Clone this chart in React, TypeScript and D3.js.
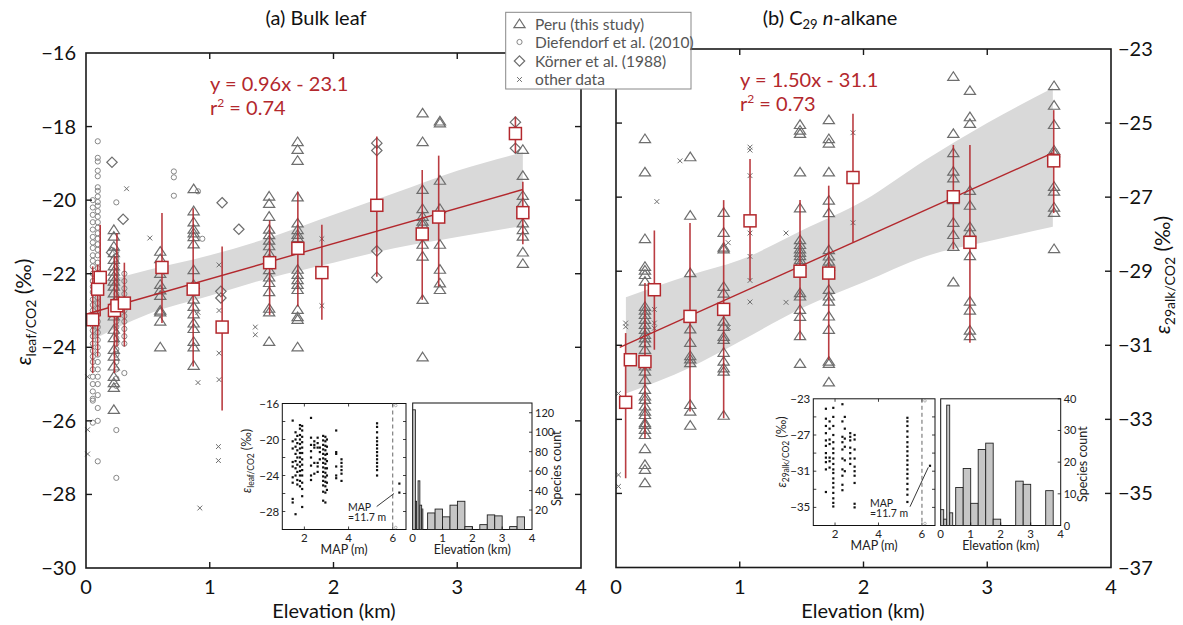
import React from 'react';
import * as d3 from 'd3';

const FONT = 'Lato, "Open Sans", "DejaVu Sans", sans-serif';
const RED = '#b3282d';
const SYM = '#6e6e6e';
const AXIS = '#1a1a1a';

// ---------------- data: (a) bulk leaf ----------------
const leafFit = { slope: 0.96, intercept: -23.1, x0: 0.02, x1: 3.53 };
const leafBandX = [0.05, 0.5, 1.0, 1.5, 2.0, 2.5, 3.0, 3.53];
const leafBandHi = [-22.3, -21.9, -21.5, -21.0, -20.4, -19.8, -19.2, -18.7];
const leafBandLo = [-23.8, -23.1, -22.6, -22.1, -21.7, -21.3, -21.0, -20.7];

const leafPeruElev = [0.225, 0.6, 0.87, 1.48, 1.71, 2.72, 2.86, 3.53];
const leafPeruVals = [
  [-20.81, -20.99, -21.26, -21.44, -21.62, -21.8, -21.94, -22.08, -22.21, -22.35, -22.53, -22.8, -23.16, -23.52, -23.75, -24.07, -24.25, -24.52, -24.8, -24.97, -25.1, -25.7],
  [-21.4, -21.6, -22.0, -22.3, -22.45, -22.6, -23.0, -23.05, -23.3, -24.0],
  [-19.7, -20.3, -20.6, -20.8, -20.9, -21.0, -21.2, -21.9, -22.3, -22.7, -22.9, -23.1, -23.35, -23.5, -23.85, -24.0, -24.5],
  [-19.9, -20.1, -20.45, -20.8, -20.95, -21.1, -21.25, -21.45, -21.6, -21.9, -22.1, -22.25, -22.5, -22.95, -23.05, -23.85],
  [-18.42, -18.63, -18.93, -19.92, -20.63, -20.81, -20.94, -21.03, -21.89, -22.03, -22.17, -22.3, -22.44, -22.98, -23.18, -23.25, -24.0],
  [-17.64, -18.42, -19.72, -20.24, -20.45, -20.58, -20.67, -21.21, -21.53, -22.71, -24.27],
  [-17.86, -17.91, -19.47, -20.24, -21.21, -21.89, -22.26, -22.44],
  [-18.63, -19.34, -19.88, -20.08, -20.35, -20.63, -20.81, -20.99, -21.42, -21.73],
];

const leafDiefElev = [0.055, 0.095, 0.245, 0.31];
const leafDiefVals = [
  [-20.0, -20.2, -20.4, -20.6, -20.8, -21.0, -21.15, -21.3, -21.5, -21.65, -21.8, -22.0, -22.2, -22.35, -22.5, -22.7, -22.85, -23.0, -23.2, -23.4, -23.55, -23.7, -23.9, -24.1, -24.25, -24.4, -24.6, -24.8, -25.0, -25.2, -25.4, -25.45, -26.05],
  [-18.4, -18.85, -18.95, -19.2, -19.35, -19.65, -19.75, -19.9, -20.05, -20.15, -20.3, -20.45, -20.6, -20.75, -20.9, -21.05, -21.2, -21.35, -21.5, -21.7, -21.85, -22.0, -22.15, -22.3, -22.5, -22.65, -22.8, -22.95, -23.1, -23.3, -23.45, -23.6, -23.8, -24.0, -24.2, -24.4, -24.6, -24.8, -25.0, -25.3, -25.65, -26.0, -27.1],
  [-20.06, -21.4, -21.6, -21.8, -21.95, -22.1, -22.25, -22.4, -22.55, -22.7, -22.85, -23.0, -23.15, -23.3, -23.45, -23.6, -23.75, -23.9, -24.05, -24.2, -24.4, -24.6, -24.85, -25.05, -26.25, -27.55],
  [-22.0, -22.2, -22.4, -22.55, -22.7, -22.85, -23.0, -23.15, -23.3, -23.5, -23.7, -23.9, -24.7],
];
const leafDiefOtherElev = [0.71, 0.71, 0.71, 0.905, 0.94];
const leafDiefOtherVal = [-19.22, -19.38, -19.88, -19.76, -21.05];

const leafKornerElev = [0.21, 0.3, 1.1, 1.235, 0.207, 1.09, 1.09, 2.35, 2.35, 2.35, 2.35, 3.47, 3.47];
const leafKornerVal = [-18.97, -20.52, -20.07, -20.79, -21.42, -22.48, -22.66, -18.45, -18.65, -21.38, -22.1, -17.88, -18.59];

const leafOtherElev = [0.328, 0.516, 1.075, 0.905, 1.075, 1.368, 1.368, 1.075, 0.905, 1.075, 1.07, 1.07, 0.92, 0.013, 0.013, 0.013, 1.906, 1.906];
const leafOtherVal = [-19.69, -21.03, -21.76, -23.05, -23.0, -23.45, -23.66, -24.16, -24.96, -24.88, -26.7, -27.08, -28.37, -26.24, -26.9, -24.8, -21.05, -22.87];

const leafMeanElev = [0.054, 0.094, 0.115, 0.23, 0.25, 0.31, 0.614, 0.866, 1.1, 1.484, 1.712, 1.906, 2.35, 2.717, 2.85, 3.47, 3.53];
const leafMean = [-23.25, -22.42, -22.1, -23.0, -22.87, -22.8, -21.83, -22.42, -23.45, -21.7, -21.31, -21.97, -20.14, -20.92, -20.46, -18.19, -20.34];
const leafErrHi = [-21.8, -21.75, -20.67, -21.53, -20.9, -21.7, -20.35, -20.22, -21.26, -20.55, -19.77, -20.67, -18.27, -19.18, -18.79, -17.73, -19.5];
const leafErrLo = [-24.7, -24.25, -23.16, -24.7, -23.98, -23.98, -23.34, -24.52, -25.72, -23.12, -22.89, -23.25, -22.08, -22.71, -22.35, -18.72, -21.2];

// ---------------- data: (b) C29 n-alkane ----------------
const alkFit = { slope: 1.5, intercept: -31.1, x0: 0.03, x1: 3.53 };
const alkBandX = [0.08, 0.6, 1.0, 1.5, 2.0, 2.5, 3.0, 3.53];
const alkBandHi = [-29.7, -29.1, -28.7, -27.9, -27.1, -26.0, -25.0, -24.05];
const alkBandLo = [-32.3, -31.6, -30.9, -30.0, -29.3, -28.6, -28.2, -27.8];

const alkPeruElev = [0.234, 0.6, 0.87, 1.487, 1.72, 2.726, 2.86, 3.54];
const alkPeruVals = [
  [-25.43, -26.33, -28.13, -28.88, -28.98, -29.1, -29.28, -29.96, -30.06, -30.18, -30.31, -30.45, -30.58, -30.72, -30.81, -30.94, -31.12, -31.57, -31.71, -31.93, -32.2, -32.38, -32.47, -32.65, -32.79, -32.88, -33.1, -33.15, -33.28, -33.42, -33.8, -34.23, -34.36, -34.72],
  [-25.92, -27.5, -29.05, -30.23, -30.57, -30.93, -31.29, -31.38, -31.48, -32.61, -32.79, -33.17],
  [-27.42, -27.96, -28.36, -28.41, -29.42, -29.6, -30.36, -30.5, -30.77, -30.85, -31.2, -31.44, -31.62, -31.71, -32.9],
  [-25.05, -25.2, -25.29, -26.33, -27.3, -28.16, -28.29, -28.41, -28.5, -28.59, -28.7, -28.81, -29.59, -29.68, -30.04, -30.23, -30.75, -31.5],
  [-24.92, -25.43, -25.55, -26.33, -27.09, -27.43, -28.43, -28.6, -28.74, -28.88, -29.5, -29.68, -29.82, -30.22, -30.58, -31.44, -31.5, -32.0],
  [-23.75, -25.29, -25.81, -26.31, -26.49, -27.08, -27.69, -28.02, -28.34, -29.3],
  [-24.13, -24.84, -25.02, -26.83, -27.23, -27.81, -27.96, -28.59, -29.82, -30.06, -30.6, -30.75],
  [-24.0, -24.53, -25.05, -25.74, -25.81, -26.72, -26.85, -27.28, -27.42, -28.4],
];
const alkOtherElev = [0.517, 1.083, 1.083, 1.083, 1.083, 1.083, 1.083, 1.083, 0.33, 0.31, 0.31, 0.31, 1.374, 1.374, 0.907, 0.907, 0.078, 0.078, 0.02, 0.02, 0.02, 1.915, 1.915];
const alkOtherVal = [-26.02, -25.65, -25.73, -26.42, -27.97, -28.6, -29.25, -29.83, -27.12, -30.03, -30.4, -30.54, -27.97, -29.84, -28.23, -30.52, -30.4, -30.5, -32.3, -34.5, -34.81, -25.26, -27.69];

const alkMeanElev = [0.078, 0.116, 0.234, 0.31, 0.598, 0.87, 1.083, 1.487, 1.719, 1.915, 2.726, 2.86, 3.537];
const alkMean = [-32.54, -31.39, -31.44, -29.5, -30.22, -30.03, -27.64, -29.0, -29.05, -26.47, -26.99, -28.22, -26.02];
const alkErrHi = [-30.67, -31.39, -29.32, -27.9, -27.7, -27.08, -25.97, -27.08, -26.69, -24.75, -25.59, -25.59, -24.65];
const alkErrLo = [-34.59, -31.39, -33.51, -31.12, -32.79, -32.97, -29.25, -30.85, -31.39, -28.21, -28.41, -30.93, -27.43];

// ---------------- inset data ----------------
const insetLeafMAP = [1.47, 1.6, 1.68, 1.8, 1.9, 2.3, 2.45, 2.6, 2.7, 2.85, 2.95, 3.02, 3.44, 3.68, 5.29, 6.3];
const insetLeafVals = [
  [-17.9, -20.2, -21.0, -22.5, -23.0, -24.2, -24.8, -26.6, -27.0],
  [-28.3, -19.2, -20.0, -20.8, -21.6, -22.4, -23.2, -24.0],
  [-19.6, -20.4, -21.2, -22.0, -22.8, -23.6, -24.5, -25.0],
  [-18.4, -18.8, -19.5, -20.0, -20.5, -21.0, -21.5, -22.0, -22.5, -23.0, -23.5, -24.0, -24.6, -25.2],
  [-18.5, -19.0, -19.7, -20.3, -20.9, -21.5, -22.2, -22.8, -23.4, -24.0, -24.8, -25.5, -26.3, -27.5],
  [-17.6, -19.8, -20.6, -21.3, -22.0, -22.9, -24.0, -24.5],
  [-20.2, -20.6, -20.9, -22.6, -23.8],
  [-19.8, -20.4, -20.9, -22.6, -23.0, -23.6],
  [-20.9, -21.4, -22.2],
  [-19.6, -20.1, -20.6, -21.1, -21.6, -22.1, -22.6, -23.1, -23.6, -24.1, -24.6, -25.1, -25.8, -26.8],
  [-19.7, -20.2, -20.7, -21.2, -21.7, -22.2, -22.7, -23.2, -23.7, -24.2, -24.7, -25.2, -25.9, -27.0],
  [-20.0, -20.8, -21.6, -22.4, -23.2, -24.0, -24.8, -25.6],
  [-19.0, -21.4, -21.6, -23.0, -24.0, -24.3],
  [-22.2, -22.6, -23.0, -23.4, -23.8, -24.6],
  [-18.2, -18.6, -19.2, -19.8, -20.2, -20.6, -21.0, -21.4, -21.8, -22.2, -22.6, -23.0, -23.4, -24.0],
  [-24.9, -25.9],
];
const insetAlkMAP = [1.58, 1.75, 1.92, 2.34, 2.45, 2.7, 2.9, 5.33, 6.37];
const insetAlkVals = [
  [-24.1, -25.2, -26.0, -26.8, -27.6, -28.2, -29.0, -29.5, -30.0, -30.8, -33.3],
  [-25.5, -26.3, -27.5, -28.0, -29.5, -29.9, -30.6],
  [-24.0, -25.0, -26.0, -27.0, -27.8, -28.5, -29.0, -29.6, -30.2, -30.8, -31.2, -31.8, -32.3, -32.8, -33.4, -34.0, -34.5, -34.9],
  [-23.6, -25.5, -27.2, -27.8, -28.6, -29.6, -30.8, -31.5, -32.5, -33.1],
  [-25.0, -26.3, -27.4, -28.3, -29.8, -31.0],
  [-26.8, -27.2, -27.6, -28.4, -29.0, -29.6, -30.2],
  [-27.0, -27.5, -28.6, -29.6, -30.5, -31.0, -31.5, -32.3, -34.6, -35.0],
  [-25.1, -25.5, -26.0, -26.6, -27.2, -27.8, -28.3, -28.8, -29.3, -29.8, -30.3, -30.8, -31.3, -31.8, -32.4, -33.0, -33.6, -34.4],
  [-30.4],
];

const leafHistX0 = [0.0, 0.09, 0.18, 0.24, 0.3, 0.5, 0.75, 1.0, 1.25, 1.5, 1.75, 2.25, 2.5, 2.75, 3.25, 3.5];
const leafHistX1 = [0.09, 0.13, 0.24, 0.3, 0.34, 0.75, 1.0, 1.25, 1.5, 1.75, 2.0, 2.5, 2.75, 3.0, 3.5, 3.75];
const leafHistN = [123, 29, 50, 25, 21, 17, 21, 13, 25, 29, 3, 5, 15, 14, 3, 13];
const alkHistX0 = [0.0, 0.1, 0.2, 0.3, 0.5, 0.75, 1.0, 1.25, 1.5, 1.75, 2.5, 2.75, 3.5];
const alkHistX1 = [0.1, 0.2, 0.3, 0.4, 0.75, 1.0, 1.25, 1.5, 1.75, 2.0, 2.75, 3.0, 3.75];
const alkHistN = [5, 2, 38, 4, 12, 18, 7, 24, 26, 2, 14, 13, 11];

const elevTicks = [0, 1, 2, 3, 4];
const leafTicks = [-16, -18, -20, -22, -24, -26, -28, -30];
const alkTicks = [-23, -25, -27, -29, -31, -33, -35, -37];
const legendItems = ['Peru (this study)', 'Diefendorf et al. (2010)', 'Körner et al. (1988)', 'other data'];

// ---------------- scales ----------------
const xL = d3.scaleLinear().domain([0, 4]).range([86, 581]);
const yL = d3.scaleLinear().domain([-30, -16]).range([568, 53]);
const xR = d3.scaleLinear().domain([0, 4]).range([616, 1111]);
const yR = d3.scaleLinear().domain([-37, -23]).range([567.5, 49]);

const xIL = d3.scaleLinear().domain([1, 6.6]).range([282.3, 406]);
const yIL = d3.scaleLinear().domain([-30, -16]).range([529.5, 403.5]);
const xHL = d3.scaleLinear().domain([0, 4]).range([412.7, 532]);
const yHL = d3.scaleLinear().domain([0, 130]).range([529.5, 403]);
const xIR = d3.scaleLinear().domain([1, 6.6]).range([813.3, 935]);
const yIR = d3.scaleLinear().domain([-37, -23]).range([525.5, 398.8]);
const xHR = d3.scaleLinear().domain([0, 4]).range([940.7, 1060.7]);
const yHR = d3.scaleLinear().domain([0, 40]).range([525.5, 398.8]);

const minus = (v: number) => (v < 0 ? '\u2212' + Math.abs(v) : String(v));

const triPath = (x: number, y: number) => `M${x},${y - 5}L${x + 5.6},${y + 3.6}L${x - 5.6},${y + 3.6}Z`;
const diaPath = (x: number, y: number) => `M${x},${y - 5.2}L${x + 5.2},${y}L${x},${y + 5.2}L${x - 5.2},${y}Z`;
const crossPath = (x: number, y: number) => `M${x - 2.4},${y - 2.4}L${x + 2.4},${y + 2.4}M${x + 2.4},${y - 2.4}L${x - 2.4},${y + 2.4}`;

type Sc = d3.ScaleLinear<number, number>;

function Triangles({ xs, vals, x, y }: { xs: number[]; vals: number[][]; x: Sc; y: Sc }) {
  return (
    <g fill="none" stroke={SYM} strokeWidth={1.2}>
      {xs.map((e, i) => vals[i].map((v, j) => <path key={i + '-' + j} d={triPath(x(e), y(v))} />))}
    </g>
  );
}

function Band({ bx, hi, lo, x, y }: { bx: number[]; hi: number[]; lo: number[]; x: Sc; y: Sc }) {
  const idx = bx.map((_, i) => i);
  const area = d3
    .area<number>()
    .x((i) => x(bx[i]))
    .y0((i) => y(lo[i]))
    .y1((i) => y(hi[i]))
    .curve(d3.curveMonotoneX);
  return <path d={area(idx) || ''} fill="#d9d9d9" />;
}

function Means({ xs, m, hi, lo, x, y }: { xs: number[]; m: number[]; hi: number[]; lo: number[]; x: Sc; y: Sc }) {
  return (
    <g>
      <g stroke={RED} strokeWidth={1.6} strokeOpacity={0.9}>
        {xs.map((e, i) => (
          <line key={i} x1={x(e)} x2={x(e)} y1={y(hi[i])} y2={y(lo[i])} />
        ))}
      </g>
      <g fill="#fff" stroke={RED} strokeWidth={1.5}>
        {xs.map((e, i) => (
          <rect key={i} x={x(e) - 6} y={y(m[i]) - 6} width={12} height={12} />
        ))}
      </g>
    </g>
  );
}

function Frame({ x, y, xTicks, yTicks, labelsLeft, labelsRight }: any) {
  const [x0, x1] = x.range();
  const [yb, yt] = y.range();
  return (
    <g>
      <rect x={x0} y={yt} width={x1 - x0} height={yb - yt} fill="none" stroke={AXIS} strokeWidth={1.6} />
      <g stroke={AXIS} strokeWidth={1.4}>
        {xTicks.slice(1, -1).map((t: number) => (
          <g key={t}>
            <line x1={x(t)} x2={x(t)} y1={yb} y2={yb - 6} />
            <line x1={x(t)} x2={x(t)} y1={yt} y2={yt + 6} />
          </g>
        ))}
        {yTicks.slice(1, -1).map((t: number) => (
          <g key={t}>
            <line x1={x0} x2={x0 + 6} y1={y(t)} y2={y(t)} />
            <line x1={x1} x2={x1 - 6} y1={y(t)} y2={y(t)} />
          </g>
        ))}
      </g>
      <g fontSize={20} fill="#111">
        {xTicks.map((t: number) => (
          <text key={t} x={x(t)} y={594} textAnchor="middle">
            {t}
          </text>
        ))}
        {labelsLeft &&
          yTicks.map((t: number) => (
            <text key={t} x={x0 - 10} y={y(t) + 7} textAnchor="end">
              {minus(t)}
            </text>
          ))}
        {labelsRight &&
          yTicks.map((t: number) => (
            <text key={t} x={x1 + 7} y={y(t) + 7} textAnchor="start">
              {minus(t)}
            </text>
          ))}
      </g>
    </g>
  );
}

function ScatterInset({ x, y, maps, vals, ticks, labTicks, label }: any) {
  const [x0, x1] = x.range();
  const [yb, yt] = y.range();
  return (
    <g>
      <rect x={x0} y={yt} width={x1 - x0} height={yb - yt} fill="#fff" stroke="#111" strokeWidth={1} />
      <g stroke="#111" strokeWidth={0.8}>
        {[2, 4, 6].map((t) => (
          <g key={t}>
            <line x1={x(t)} x2={x(t)} y1={yb} y2={yb - 3} />
            <line x1={x(t)} x2={x(t)} y1={yt} y2={yt + 3} />
          </g>
        ))}
        {ticks.map((t: number) => (
          <g key={t}>
            <line x1={x0} x2={x0 + 3} y1={y(t)} y2={y(t)} />
            <line x1={x1} x2={x1 - 3} y1={y(t)} y2={y(t)} />
          </g>
        ))}
      </g>
      <line x1={x(6)} x2={x(6)} y1={yt} y2={yb} stroke="#666" strokeWidth={1} strokeDasharray="4,3" />
      <circle cx={x(6) + 3} cy={yt + 2} r={1.3} fill="none" stroke="#888" strokeWidth={0.6} />
      <circle cx={x(6) + 3} cy={yb - 2} r={1.3} fill="none" stroke="#888" strokeWidth={0.6} />
      <g fill="#111">
        {maps.map((m: number, i: number) =>
          vals[i].map((v: number, j: number) => <rect key={i + '-' + j} x={x(m) - 1.1} y={y(v) - 1.1} width={2.2} height={2.2} />)
        )}
      </g>
      <g fontSize={11.5} fill="#222">
        {labTicks.map((t: number) => (
          <text key={t} x={x0 - 3} y={y(t) + 4} textAnchor="end">
            {minus(t)}
          </text>
        ))}
        {[2, 4, 6].map((t) => (
          <text key={t} x={x(t)} y={yb + 12} textAnchor="middle">
            {t}
          </text>
        ))}
        <text x={(x0 + x1) / 2} y={yb + 24.5} textAnchor="middle" fontSize={12.5}>
          MAP (m)
        </text>
      </g>
      {label}
    </g>
  );
}

function HistInset({ x, y, x0s, x1s, ns, ticks, labOff }: any) {
  const [a, b] = x.range();
  const [yb, yt] = y.range();
  return (
    <g>
      <rect x={a} y={yt} width={b - a} height={yb - yt} fill="#fff" stroke="#111" strokeWidth={1} />
      <g fill="#c6c6c6" stroke="#222" strokeWidth={0.9}>
        {ns.map((n: number, i: number) => (
          <rect key={i} x={x(x0s[i])} y={y(n)} width={x(x1s[i]) - x(x0s[i])} height={yb - y(n)} />
        ))}
      </g>
      <g stroke="#111" strokeWidth={0.8}>
        {[1, 2, 3].map((t) => (
          <line key={t} x1={x(t)} x2={x(t)} y1={yb} y2={yb - 3} />
        ))}
        {ticks.map((t: number) => (
          <line key={t} x1={b} x2={b - 3} y1={y(t)} y2={y(t)} />
        ))}
      </g>
      <g fontSize={11} fill="#222">
        {ticks.map((t: number) => (
          <text key={t} x={b + 3} y={y(t) + 4}>
            {t}
          </text>
        ))}
        {[0, 1, 2, 3, 4].map((t) => (
          <text key={t} x={x(t)} y={yb + 12} textAnchor="middle" fontSize={11.5}>
            {t}
          </text>
        ))}
        <text x={(a + b) / 2} y={yb + 24.5} textAnchor="middle" fontSize={12.5}>
          Elevation (km)
        </text>
        <text transform={`translate(${b + labOff},${(yt + yb) / 2 + 2}) rotate(-90)`} textAnchor="middle" fontSize={12.5}>
          Species count
        </text>
      </g>
    </g>
  );
}

export default function App() {
  const leafLine = [leafFit.x0, leafFit.x1].map((e) => [xL(e), yL(leafFit.slope * e + leafFit.intercept)]);
  const alkLine = [alkFit.x0, alkFit.x1].map((e) => [xR(e), yR(alkFit.slope * e + alkFit.intercept)]);
  const lineGen = d3.line();

  return (
    <svg width={1183} height={625} style={{ position: 'absolute', left: 0, top: 0, background: '#fff' }} fontFamily={FONT}>
      <rect width={1183} height={625} fill="#fff" />

      {/* ---------- panel (a) ---------- */}
      <Band bx={leafBandX} hi={leafBandHi} lo={leafBandLo} x={xL} y={yL} />
      <g fill="none" stroke="#888" strokeWidth={1}>
        {leafDiefElev.map((e, i) => leafDiefVals[i].map((v, j) => <circle key={i + '-' + j} cx={xL(e)} cy={yL(v)} r={2.6} />))}
        {leafDiefOtherElev.map((e, i) => (
          <circle key={'o' + i} cx={xL(e)} cy={yL(leafDiefOtherVal[i])} r={2.6} />
        ))}
      </g>
      <Triangles xs={leafPeruElev} vals={leafPeruVals} x={xL} y={yL} />
      <g fill="none" stroke={SYM} strokeWidth={1.2}>
        {leafKornerElev.map((e, i) => (
          <path key={i} d={diaPath(xL(e), yL(leafKornerVal[i]))} />
        ))}
      </g>
      <g fill="none" stroke={SYM} strokeWidth={1}>
        {leafOtherElev.map((e, i) => (
          <path key={i} d={crossPath(xL(e), yL(leafOtherVal[i]))} />
        ))}
      </g>
      <path d={lineGen(leafLine as any) || ''} stroke={RED} strokeWidth={1.4} fill="none" />
      <Means xs={leafMeanElev} m={leafMean} hi={leafErrHi} lo={leafErrLo} x={xL} y={yL} />
      <Frame x={xL} y={yL} xTicks={elevTicks} yTicks={leafTicks} labelsLeft />
      <text x={210} y={91} fill={RED} fontSize={20}>
        y = 0.96x - 23.1
      </text>
      <text x={210} y={115} fill={RED} fontSize={20}>
        r<tspan dy={-8} fontSize={12}>2</tspan>
        <tspan dy={8}> = 0.74</tspan>
      </text>
      <text x={316} y={25} textAnchor="middle" fontSize={20} fill="#111">
        (a) Bulk leaf
      </text>
      <text x={334} y={618} textAnchor="middle" fontSize={20} fill="#111">
        Elevation (km)
      </text>
      <text transform="translate(31,312) rotate(-90)" textAnchor="middle" fontSize={21} fill="#111">
        <tspan fontStyle="italic">ε</tspan>
        <tspan fontSize={14} dy={5}>leaf/CO2</tspan>
        <tspan dy={-5}> (‰)</tspan>
      </text>

      <ScatterInset
        x={xIL}
        y={yIL}
        maps={insetLeafMAP}
        vals={insetLeafVals}
        ticks={[-18, -20, -22, -24, -26, -28]}
        labTicks={[-16, -20, -24, -28]}
        label={
          <g>
            <text transform="translate(251,461) rotate(-90)" textAnchor="middle" fontSize={12.5} fill="#222">
              <tspan fontStyle="italic">ε</tspan>
              <tspan fontSize={8.5} dy={3}>leaf/CO2</tspan>
              <tspan dy={-3}> (‰)</tspan>
            </text>
            <text x={348} y={510.5} fontSize={10.5} fill="#222">
              <tspan x={348}>MAP</tspan>
              <tspan x={348} dy={10.5}>=11.7 m</tspan>
            </text>
            <line x1={376.7} y1={506.5} x2={394} y2={493.5} stroke="#222" strokeWidth={0.9} />
          </g>
        }
      />
      <HistInset x={xHL} y={yHL} x0s={leafHistX0} x1s={leafHistX1} ns={leafHistN} ticks={[20, 40, 60, 80, 100, 120]} labOff={29} />

      {/* ---------- panel (b) ---------- */}
      <Band bx={alkBandX} hi={alkBandHi} lo={alkBandLo} x={xR} y={yR} />
      <Triangles xs={alkPeruElev} vals={alkPeruVals} x={xR} y={yR} />
      <g fill="none" stroke={SYM} strokeWidth={1}>
        {alkOtherElev.map((e, i) => (
          <path key={i} d={crossPath(xR(e), yR(alkOtherVal[i]))} />
        ))}
      </g>
      <path d={lineGen(alkLine as any) || ''} stroke={RED} strokeWidth={1.4} fill="none" />
      <Means xs={alkMeanElev} m={alkMean} hi={alkErrHi} lo={alkErrLo} x={xR} y={yR} />
      <Frame x={xR} y={yR} xTicks={elevTicks} yTicks={alkTicks} labelsRight />
      <text x={740} y={87} fill={RED} fontSize={20}>
        y = 1.50x - 31.1
      </text>
      <text x={740} y={111} fill={RED} fontSize={20}>
        r<tspan dy={-8} fontSize={12}>2</tspan>
        <tspan dy={8}> = 0.73</tspan>
      </text>
      <text x={830} y={25} textAnchor="middle" fontSize={20} fill="#111">
        (b) C<tspan fontSize={13} dy={4}>29</tspan>
        <tspan dy={-4}> </tspan>
        <tspan fontStyle="italic">n</tspan>-alkane
      </text>
      <text x={863} y={618} textAnchor="middle" fontSize={20} fill="#111">
        Elevation (km)
      </text>
      <text transform="translate(1170,275) rotate(-90)" textAnchor="middle" fontSize={21} fill="#111">
        <tspan fontStyle="italic">ε</tspan>
        <tspan fontSize={14} dy={5}>29alk/CO2</tspan>
        <tspan dy={-5}> (‰)</tspan>
      </text>

      <ScatterInset
        x={xIR}
        y={yIR}
        maps={insetAlkMAP}
        vals={insetAlkVals}
        ticks={[-25, -27, -29, -31, -33, -35]}
        labTicks={[-23, -27, -31, -35]}
        label={
          <g>
            <text transform="translate(786,452) rotate(-90)" textAnchor="middle" fontSize={12.5} fill="#222">
              <tspan fontStyle="italic">ε</tspan>
              <tspan fontSize={8.5} dy={3}>29alk/CO2</tspan>
              <tspan dy={-3}> (‰)</tspan>
            </text>
            <text x={870} y={506.5} fontSize={10.5} fill="#222">
              <tspan x={870}>MAP</tspan>
              <tspan x={870} dy={10}>=11.7 m</tspan>
            </text>
            <line x1={910} y1={506.7} x2={928.3} y2={467.3} stroke="#222" strokeWidth={0.9} />
          </g>
        }
      />
      <HistInset x={xHR} y={yHR} x0s={alkHistX0} x1s={alkHistX1} ns={alkHistN} ticks={[0, 10, 20, 30, 40]} labOff={26} />

      {/* ---------- legend ---------- */}
      <g>
        <rect x={505.7} y={12.3} width={185.3} height={76.7} fill="#fff" stroke="#888" strokeWidth={1} />
        <path d={triPath(519.5, 24)} fill="none" stroke={SYM} strokeWidth={1.2} />
        <circle cx={519.5} cy={42} r={2.6} fill="none" stroke="#888" strokeWidth={1} />
        <path d={diaPath(519.5, 61)} fill="none" stroke={SYM} strokeWidth={1.2} />
        <path d={crossPath(519.5, 79.5)} fill="none" stroke={SYM} strokeWidth={1} />
        {legendItems.map((t, i) => (
          <text key={t} x={535} y={[29.5, 47.5, 66.5, 85][i]} fontSize={15.5} fill="#555">
            {t}
          </text>
        ))}
      </g>
    </svg>
  );
}
